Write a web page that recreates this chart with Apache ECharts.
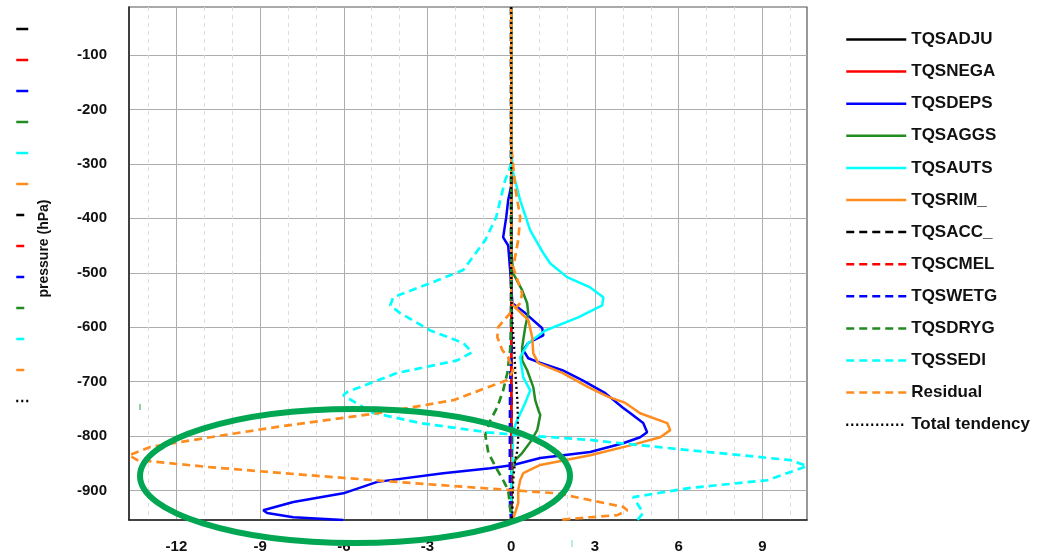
<!DOCTYPE html>
<html><head><meta charset="utf-8">
<script src="https://cdn.jsdelivr.net/npm/echarts@6/dist/echarts.min.js"></script>
<style>html,body{margin:0;padding:0;background:#fff}#c{width:1063px;height:555px}</style>
</head><body><div id="c"></div>
<script>
// x tick labels (tendency) and y tick labels (pressure, hPa, negative)
const xTicks = [-12, -9, -6, -3, 0, 3, 6, 9];
const xMinorTicks = [-13, -11, -10, -8, -7, -5, -4, -2, -1, 1, 2, 4, 5, 7, 8, 10];
const yTicks = [-100, -200, -300, -400, -500, -600, -700, -800, -900];

// each series: [tendency, pressure]
const tqsadju = [[0, -12], [0, -954]];
const tqsnega = [[0, -12], [0, -954]];
const tqsdeps = [[0,-12],[0,-340],[-0.11,-367],[-0.18,-398],[-0.29,-435],[-0.11,-450],[-0.04,-495],[0.04,-556],[0.5,-574],[1.11,-602],[1.15,-615],[0.61,-629],[0.43,-642],[0.61,-657],[0.97,-664],[1.83,-679],[2.54,-697],[3.37,-721],[3.98,-747],[4.27,-758],[4.73,-776],[4.87,-793],[4.62,-802],[4.01,-813],[2.83,-829],[1.04,-840],[0.07,-853],[-0.75,-859],[-2.44,-868],[-4.8,-884],[-6.02,-905],[-7.81,-921],[-8.89,-936],[-8.75,-941],[-7.81,-949],[-6.02,-954]];
const tqsaggs = [[0,-12],[0,-459],[0.07,-501],[0.39,-532],[0.57,-556],[0.61,-574],[0.5,-600],[0.39,-637],[0.39,-661],[0.57,-679],[0.79,-710],[0.86,-734],[0.97,-752],[1.04,-761],[0.93,-789],[0.68,-811],[0.39,-831],[0.14,-844],[0.04,-862],[0,-954]];
const tqsauts = [[0,-12],[0,-270],[0.07,-317],[0.32,-367],[0.68,-422],[1.15,-464],[1.4,-483],[2.0,-508],[2.83,-527],[3.3,-545],[3.26,-560],[2.4,-582],[1.22,-606],[0.61,-629],[0.32,-655],[0.43,-692],[0.68,-716],[0.5,-739],[0.22,-770],[0.07,-789],[0.04,-850],[0,-870],[0,-954]];
const tqsrim = [[0,-12],[0,-550],[0.07,-560],[0.61,-587],[0.75,-618],[0.79,-648],[0.97,-666],[1.83,-684],[2.76,-710],[3.48,-728],[4.09,-739],[4.62,-758],[5.59,-776],[5.7,-789],[5.34,-802],[4.27,-817],[2.83,-835],[1.04,-853],[0.43,-868],[0.32,-881],[0.25,-899],[0.25,-923],[0.14,-941],[0.04,-954]];
const tqsacc = [[0, -12], [0, -954]];
const tqscmel = [[0, -12], [0, -954]];
const tqswetg = [[0,-12],[0,-650],[-0.04,-700],[-0.05,-850],[-0.04,-930],[0,-954]];
const tqsdryg = [[0,-12],[0,-600],[-0.04,-642],[-0.14,-684],[-0.29,-716],[-0.5,-747],[-0.75,-771],[-0.93,-798],[-0.82,-831],[-0.5,-862],[-0.29,-881],[-0.11,-899],[-0.04,-930],[0,-954]];
const tqssedi = [[0,-12],[0,-299],[-0.11,-317],[-0.22,-330],[-0.54,-398],[-0.93,-440],[-1.72,-495],[-2.9,-519],[-4.23,-545],[-4.34,-560],[-3.98,-574],[-2.9,-606],[-1.72,-629],[-1.4,-646],[-1.94,-661],[-4.09,-684],[-5.88,-719],[-6.02,-725],[-5.3,-747],[-5.05,-756],[-3.26,-776],[-0.86,-793],[0.32,-798],[2.83,-807],[3.9,-813],[6.42,-826],[10.0,-844],[10.6,-855],[9.18,-881],[6.42,-895],[4.37,-912],[4.73,-941],[4.52,-954]];
const residual = [[0,-12],[0,-266],[0.14,-343],[0.32,-398],[0.25,-440],[0.07,-490],[0.39,-538],[0.32,-556],[-0.04,-574],[-0.47,-600],[-0.5,-618],[-0.32,-642],[-0.11,-655],[0.07,-679],[-0.14,-697],[-2.08,-734],[-4.8,-758],[-8.39,-783],[-10.79,-802],[-12.94,-820],[-13.7,-835],[-13.4,-844],[-10.79,-857],[-7.2,-872],[-3.62,-886],[-0.04,-899],[1.65,-905],[4.01,-930],[4.16,-936],[3.8,-945],[2.83,-949],[1.65,-954]];
const totalTendency = [[0,-12],[0,-540],[0.04,-587],[0.11,-642],[0.14,-679],[0.22,-734],[0.25,-802],[0.22,-826],[0.14,-844],[0.07,-881],[0.04,-941],[0,-954]];

const seriesNames = ['TQSADJU','TQSNEGA','TQSDEPS','TQSAGGS','TQSAUTS','TQSRIM_','TQSACC_','TQSCMEL','TQSWETG','TQSDRYG','TQSSEDI','Residual','Total tendency'];
const seriesData = [tqsadju,tqsnega,tqsdeps,tqsaggs,tqsauts,tqsrim,tqsacc,tqscmel,tqswetg,tqsdryg,tqssedi,residual,totalTendency];
const colors = ['#000000','#ff0000','#0000ff','#228b22','#00ffff','#ff8c1e','#000000','#ff0000','#0000ff','#228b22','#00ffff','#ff8c1e','#000000'];
const styles = ['solid','solid','solid','solid','solid','solid','dashed','dashed','dashed','dashed','dashed','dashed','dotted'];

const FONT = 'Liberation Sans';
function lineStyleOf(kind, color) {
  if (kind === 'dashed') return { color, width: 2.7, type: [8, 5] };
  if (kind === 'dotted') return { color, width: 2.3, type: [2, 3] };
  return { color, width: 2.5, type: 'solid' };
}

const series = seriesNames.map((n, i) => ({
  name: n, type: 'line', xAxisIndex: 0, yAxisIndex: 0,
  data: seriesData[i], symbol: 'none', showSymbol: false,
  lineStyle: lineStyleOf(styles[i], colors[i]),
  itemStyle: { color: colors[i], opacity: 0 },
  emphasis: { disabled: true }, animation: false
}));

const chart = echarts.init(document.getElementById('c'), null, { renderer: 'canvas' });
chart.setOption({
  backgroundColor: '#ffffff',
  animation: false,
  grid: { left: 129, right: 256, top: 7, bottom: 35, show: true, borderColor: '#555', borderWidth: 1.2, containLabel: false },
  legend: [
    { orient: 'vertical', left: 840, top: 26, itemWidth: 60, itemHeight: 17, itemGap: 15.1,
      data: seriesNames, selectedMode: false,
      itemStyle: { opacity: 0, borderWidth: 0 },
      lineStyle: { width: 2.5 },
      textStyle: { fontFamily: FONT, fontSize: 17, fontWeight: 'bold', color: '#111' } },
    { orient: 'vertical', left: 10, top: 17, itemWidth: 12, itemHeight: 14, itemGap: 18.4,
      data: seriesNames, selectedMode: false, formatter: () => '',
      itemStyle: { opacity: 0, borderWidth: 0 },
      lineStyle: { width: 2.5 },
      textStyle: { fontSize: 1 } }
  ],
  xAxis: [
    { type: 'value', min: -13.7, max: 10.6, position: 'bottom',
      axisLine: { show: true, onZero: false, lineStyle: { color: '#222', width: 1.5 } },
      axisTick: { show: false, customValues: xTicks },
      axisLabel: { customValues: xTicks, margin: 19, fontFamily: FONT, fontSize: 15, fontWeight: 'bold', color: '#111' },
      splitLine: { show: true, lineStyle: { color: '#adadad', width: 1 } } },
    { type: 'value', min: -13.7, max: 10.6, position: 'bottom',
      axisLine: { show: false }, axisLabel: { show: false },
      axisTick: { show: false, customValues: xMinorTicks },
      splitLine: { show: true, lineStyle: { color: '#dcdcdc', width: 1, type: [4, 4] } } }
  ],
  yAxis: {
    type: 'value', min: -954, max: -12,
    name: 'pressure (hPa)', nameLocation: 'middle', nameGap: 78,
    nameTextStyle: { fontFamily: FONT, fontSize: 14, fontWeight: 'bold', color: '#111', padding: [0, 0, 0, 30] },
    axisLine: { show: true, onZero: false, lineStyle: { color: '#222', width: 1.5 } },
    axisTick: { show: false, customValues: yTicks },
    axisLabel: { customValues: yTicks, margin: 22, fontFamily: FONT, fontSize: 15, fontWeight: 'bold', color: '#111' },
    splitLine: { show: true, lineStyle: { color: '#adadad', width: 1 } }
  },
  graphic: [
    { type: 'ellipse', z: 100, shape: { cx: 355, cy: 476, rx: 215, ry: 67 },
      style: { fill: 'none', stroke: '#00a651', lineWidth: 6 } },
    { type: 'line', z: 100, shape: { x1: 140, y1: 404, x2: 140, y2: 410 }, style: { stroke: '#2ea04a', lineWidth: 1 } },
    { type: 'line', z: 100, shape: { x1: 572, y1: 540, x2: 572, y2: 547 }, style: { stroke: '#6fe0c0', lineWidth: 1 } }
  ],
  series
});
</script>
</body></html>
